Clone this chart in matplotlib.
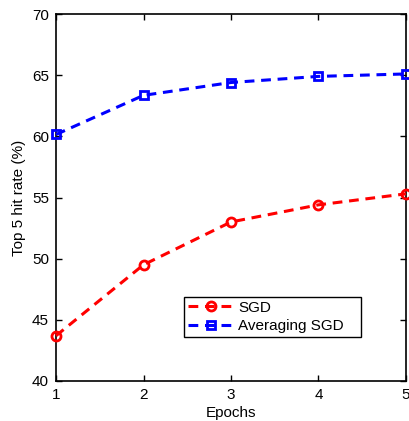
import numpy as np
import matplotlib
matplotlib.use('Agg')
import matplotlib.pyplot as plt

plt.rcParams['font.family'] = ['Liberation Sans', 'DejaVu Sans']

# valori
epochs = [1, 2, 3, 4, 5]
sgd = [43.7, 49.5, 53.0, 54.4, 55.3]
avg_sgd = [60.15, 63.35, 64.4, 64.9, 65.1]

fig = plt.figure(figsize=(4.09, 4.21), dpi=100)
ax = fig.add_axes([56/409, 1-381/421, 350/409, 367/421])

ax.plot(epochs, sgd, 'r--o', lw=2.2, ms=6.5, mew=2, mfc='none', dashes=(3.2, 2.2),
        label='SGD', clip_on=False, zorder=3)
ax.plot(epochs, avg_sgd, 'b--s', lw=2.2, ms=5.5, mew=2, mfc='none', dashes=(3.2, 2.2),
        label='Averaging SGD', clip_on=False, zorder=3)

ax.set_xlim(1, 5)
ax.set_ylim(40, 70)
ax.set_xticks(epochs)
ax.set_yticks(np.arange(40, 71, 5))
ax.tick_params(direction='in', top=True, right=True, labelsize=11, length=4, width=1, pad=5)
for s in ax.spines.values():
    s.set_linewidth(1.2)

ax.set_xlabel('Epochs', fontsize=11, labelpad=3)
ax.set_ylabel('Top 5 hit rate (%)', fontsize=11, labelpad=4)

leg = ax.legend(loc='lower left', bbox_to_anchor=(0.366, 0.12, 0.505, 0.136), mode='expand',
                fontsize=11, handlelength=3.0, fancybox=False, framealpha=1,
                borderpad=0.25, labelspacing=0.3, handletextpad=0.3, borderaxespad=0)
leg.get_frame().set_edgecolor('black')
leg.get_frame().set_linewidth(1)

fig.savefig('out.png', dpi=100)
